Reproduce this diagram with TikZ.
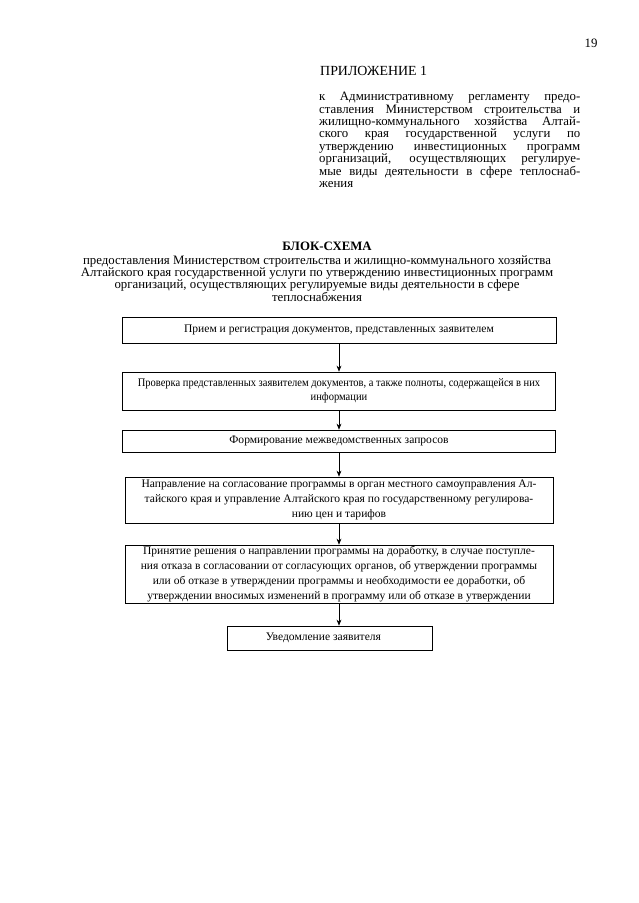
\documentclass[tikz,border=0pt]{standalone}
\usepackage{fontspec}
\setmainfont{Liberation Serif}
\newfontfamily\condfont[FakeStretch=0.91]{Liberation Serif}
\usetikzlibrary{arrows.meta}
\newcommand\jl[1]{\makebox[85.8mm][s]{#1}}
\begin{document}
\begin{tikzpicture}[x=0.3286mm,y=-0.3286mm,
  flow/.style={draw, line width=0.6pt, inner sep=0pt, align=center,
    font=\fontsize{10.8}{14}\selectfont},
  arr/.style={-{Stealth[length=2mm,width=1.6mm]}, line width=0.6pt},
  body/.style={inner sep=0pt, font=\fontsize{12}{11.6}\selectfont}]
\useasboundingbox[fill=white] (0,0) rectangle (639,903);

\node[body, anchor=base] (pg) at (591,47) {19};
\node[inner sep=0pt, anchor=base west, font=\fontsize{13}{14}\selectfont] (app) at (320,75) {ПРИЛОЖЕНИЕ 1};
\node[body, anchor=north west, align=left] (par) at (319,92) {%
\jl{к Административному регламенту предо-}\\
\jl{ставления Министерством строительства и}\\
\jl{жилищно-коммунального хозяйства Алтай-}\\
\jl{ского края государственной услуги по}\\
\jl{утверждению инвестиционных программ}\\
\jl{организаций, осуществляющих регулируе-}\\
\jl{мые виды деятельности в сфере теплоснаб-}\\
жения};

\node[inner sep=0pt, anchor=base, font=\fontsize{12}{14}\selectfont\bfseries] (title) at (327,250) {БЛОК-СХЕМА};
\node[body, anchor=north, align=center] (sub) at (317,255) {%
предоставления Министерством строительства и жилищно-коммунального хозяйства\\
Алтайского края государственной услуги по утверждению инвестиционных программ\\
организаций, осуществляющих регулируемые виды деятельности в сфере\\
теплоснабжения};

\node[flow, minimum width={434*0.3286mm}, minimum height={26*0.3286mm}] (b1) at (339,330)
  {Прием и регистрация документов, представленных заявителем};
\node[flow, minimum width={433*0.3286mm}, minimum height={38*0.3286mm},
  font=\condfont\fontsize{10.8}{13.5}\selectfont] (b2) at (339,391)
  {Проверка представленных заявителем документов, а также полноты, содержащейся в них\\информации};
\node[flow, minimum width={433*0.3286mm}, minimum height={22*0.3286mm}] (b3) at (339,441)
  {Формирование межведомственных запросов};
\node[flow, minimum width={428*0.3286mm}, minimum height={46*0.3286mm}] (b4) at (339,500)
  {Направление на согласование программы в орган местного самоуправления Ал-\\
   тайского края и управление Алтайского края по государственному регулирова-\\
   нию цен и тарифов};
\node[flow, minimum width={428*0.3286mm}, minimum height={58*0.3286mm}] (b5) at (339,574)
  {Принятие решения о направлении программы на доработку, в случае поступле-\\
   ния отказа в согласовании от согласующих органов, об утверждении программы\\
   или об отказе в утверждении программы и необходимости ее доработки, об\\
   утверждении вносимых изменений в программу или об отказе в утверждении};
\node[flow, minimum width={205*0.3286mm}, minimum height={24*0.3286mm}] (b6) at (329.5,638)
  {Уведомление заявителя\hspace*{4mm}};

\draw[arr] (b1.south) -- (b2.north);
\draw[arr] (b2.south) -- (b3.north);
\draw[arr] (b3.south) -- (b4.north);
\draw[arr] (b4.south) -- (b5.north);
\draw[arr] (b5.south) -- (b5.south |- b6.north);
\end{tikzpicture}
\end{document}
